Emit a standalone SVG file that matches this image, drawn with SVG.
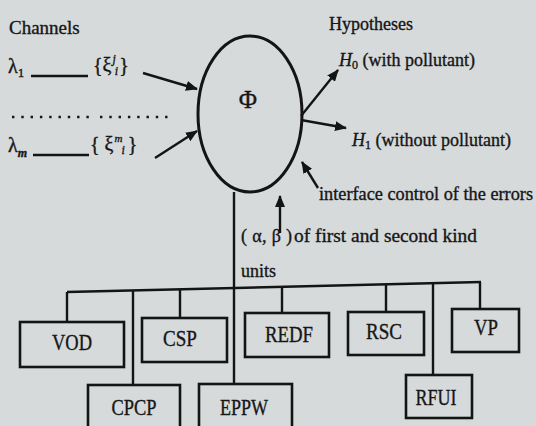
<svg xmlns="http://www.w3.org/2000/svg" width="536" height="426" viewBox="0 0 536 426">
<style>
text{font-family:'Liberation Serif','DejaVu Serif','Times New Roman',serif;fill:#161616;stroke:#161616;stroke-width:0.35}
.t{font-size:18px}
.b{font-size:23px}
.i{font-style:italic}
.ln{stroke:#141414;stroke-width:2.4;fill:none}
.box{stroke:#141414;stroke-width:2.6;fill:none}
</style>
<defs>
<marker id="ah" viewBox="0 0 12 10" refX="11" refY="5" markerWidth="12" markerHeight="10" markerUnits="userSpaceOnUse" orient="auto">
<path d="M0,0 L12,5 L0,10 Z" fill="#141414"/>
</marker>
</defs>
<rect width="536" height="426" fill="#d6dadb"/>

<g id="channels">
<text class="t" x="9" y="34" style="font-size:19px">Channels</text>
<text x="8" y="73" style="font-size:20px">λ<tspan dy="4" style="font-size:13px">1</tspan></text>
<line class="ln" x1="31" y1="76" x2="88" y2="76"/>
<text x="93" y="72" style="font-size:20px">{ξ<tspan class="i" dx="1" dy="-9" style="font-size:12px">j</tspan><tspan class="i" dx="-1" dy="12" style="font-size:12px">i</tspan><tspan dx="1" dy="-3">}</tspan></text>
<line x1="12" y1="117" x2="92" y2="117" stroke="#141414" stroke-width="2.4" stroke-dasharray="2.4 6.9"/>
<line x1="100" y1="117" x2="168" y2="117" stroke="#141414" stroke-width="2.4" stroke-dasharray="2.4 6.9"/>
<text x="8" y="152" style="font-size:20px">λ<tspan class="i" dy="5" style="font-size:12px;font-weight:bold">m</tspan></text>
<line class="ln" x1="33" y1="155" x2="89" y2="155"/>
<text x="90" y="151" style="font-size:20px">{ ξ<tspan class="i" dx="1" dy="-9" style="font-size:11px">m</tspan><tspan class="i" dx="-1" dy="12" style="font-size:12px">i</tspan><tspan dx="3" dy="-3">}</tspan></text>
</g>

<g id="phi">
<ellipse cx="250" cy="114" rx="52" ry="78" class="ln" style="stroke-width:3"/>
<text x="248" y="108" style="font-size:25px" text-anchor="middle">Φ</text>
</g>

<g id="hypotheses">
<text class="t" x="329" y="30">Hypotheses</text>
<text class="t" x="339" y="66"><tspan class="i">H</tspan><tspan dy="3" style="font-size:12px">0</tspan><tspan dy="-3"> (with pollutant)</tspan></text>
<text class="t" x="352" y="146"><tspan class="i">H</tspan><tspan dy="3" style="font-size:12px">1</tspan><tspan dy="-3"> (without pollutant)</tspan></text>
</g>

<g id="interface">
<text class="t" x="319" y="200" textLength="214" lengthAdjust="spacingAndGlyphs">interface control of the errors</text>
<text class="t" x="294" y="242" textLength="183" lengthAdjust="spacingAndGlyphs">of first and second kind</text>
<text class="t" x="241" y="242" textLength="51" lengthAdjust="spacing">( α, β )</text>
<text class="t" x="241" y="277">units</text>
</g>

<g id="connectors">
<line class="ln" x1="143" y1="73" x2="197" y2="89" marker-end="url(#ah)"/>
<line class="ln" x1="155" y1="158" x2="197" y2="131" marker-end="url(#ah)"/>
<line class="ln" x1="301" y1="116" x2="338" y2="70" marker-end="url(#ah)"/>
<line class="ln" x1="301" y1="120" x2="346" y2="128" marker-end="url(#ah)"/>
<line class="ln" x1="318" y1="188" x2="302" y2="162" marker-end="url(#ah)"/>
<line class="ln" x1="280" y1="233" x2="280" y2="196" marker-end="url(#ah)"/>
<line class="ln" x1="234" y1="192" x2="234" y2="384"/>
<line class="ln" x1="67" y1="292" x2="481" y2="282"/>
<line class="ln" x1="67" y1="292" x2="67" y2="322"/>
<line class="ln" x1="133" y1="290" x2="133" y2="385"/>
<line class="ln" x1="180" y1="289" x2="180" y2="318"/>
<line class="ln" x1="282" y1="286" x2="282" y2="313"/>
<line class="ln" x1="386" y1="284" x2="386" y2="312"/>
<line class="ln" x1="433" y1="283" x2="433" y2="375"/>
<line class="ln" x1="480" y1="282" x2="480" y2="309"/>
</g>

<g id="VOD"><rect class="box" x="20" y="322" width="104" height="45"/><text class="b" x="72" y="350" text-anchor="middle" textLength="40" lengthAdjust="spacingAndGlyphs">VOD</text></g>
<g id="CSP"><rect class="box" x="142" y="318" width="85" height="44"/><text class="b" x="180" y="346" text-anchor="middle" textLength="34" lengthAdjust="spacingAndGlyphs">CSP</text></g>
<g id="REDF"><rect class="box" x="245" y="313" width="84" height="44"/><text class="b" x="289" y="342" text-anchor="middle" textLength="48" lengthAdjust="spacingAndGlyphs">REDF</text></g>
<g id="RSC"><rect class="box" x="348" y="312" width="76" height="43"/><text class="b" x="384" y="339" text-anchor="middle" textLength="36" lengthAdjust="spacingAndGlyphs">RSC</text></g>
<g id="VP"><rect class="box" x="452" y="309" width="67" height="43"/><text class="b" x="486" y="335" text-anchor="middle" textLength="24" lengthAdjust="spacingAndGlyphs">VP</text></g>
<g id="CPCP"><rect class="box" x="88" y="385" width="92" height="45"/><text class="b" x="134" y="415" text-anchor="middle" textLength="45" lengthAdjust="spacingAndGlyphs">CPCP</text></g>
<g id="EPPW"><rect class="box" x="199" y="384" width="93" height="45"/><text class="b" x="244" y="415" text-anchor="middle" textLength="48" lengthAdjust="spacingAndGlyphs">EPPW</text></g>
<g id="RFUI"><rect class="box" x="406" y="375" width="66" height="43"/><text class="b" x="436" y="405" text-anchor="middle" textLength="41" lengthAdjust="spacingAndGlyphs">RFUI</text></g>
</svg>
